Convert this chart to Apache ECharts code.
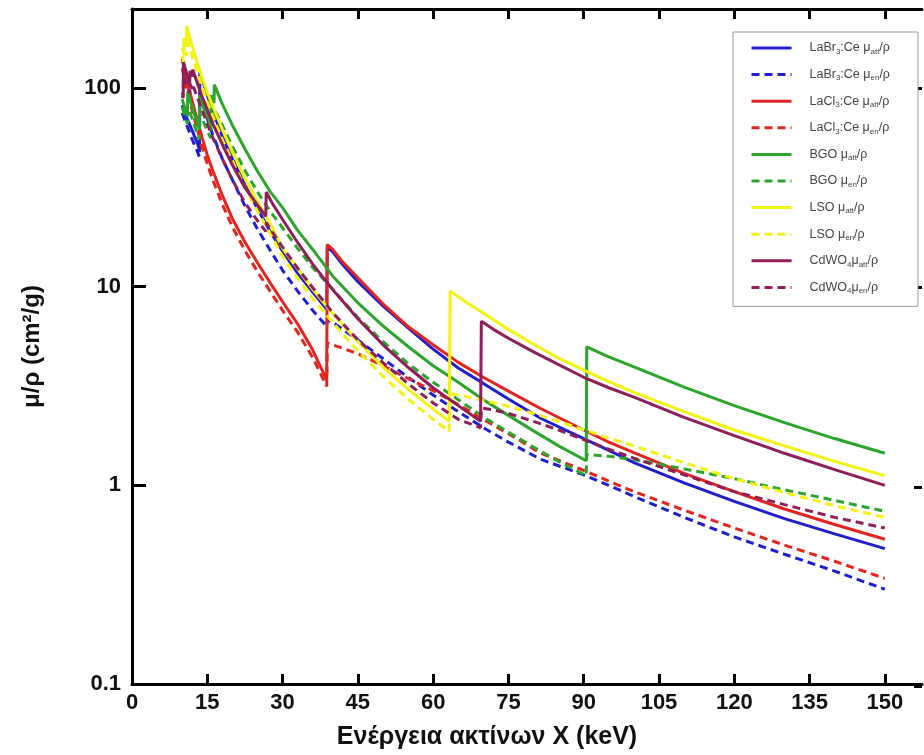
<!DOCTYPE html>
<html><head><meta charset="utf-8">
<script src="https://cdn.jsdelivr.net/npm/echarts@6/dist/echarts.min.js"></script>
<style>html,body{margin:0;padding:0;background:#fff}#c{width:924px;height:755px}</style>
</head><body><div id="c"></div>
<script>
// tick labels
const xTickLabels = [0, 15, 30, 45, 60, 75, 90, 105, 120, 135, 150];
const yTickLabels = [0.1, 1, 10, 100];

// legend / series names
const seriesNames = [
  'LaBr3:Ce μatt/ρ', 'LaBr3:Ce μen/ρ', 'LaCl3:Ce μatt/ρ', 'LaCl3:Ce μen/ρ',
  'BGO μatt/ρ', 'BGO μen/ρ', 'LSO μatt/ρ', 'LSO μen/ρ', 'CdWO4μatt/ρ', 'CdWO4μen/ρ'
];
const legendRich = [
  '{n|LaBr}{s|3}{n|:Ce μ}{s|att}{n|/ρ}',
  '{n|LaBr}{s|3}{n|:Ce μ}{s|en}{n|/ρ}',
  '{n|LaCl}{s|3}{n|:Ce μ}{s|att}{n|/ρ}',
  '{n|LaCl}{s|3}{n|:Ce μ}{s|en}{n|/ρ}',
  '{n|BGO μ}{s|att}{n|/ρ}',
  '{n|BGO μ}{s|en}{n|/ρ}',
  '{n|LSO μ}{s|att}{n|/ρ}',
  '{n|LSO μ}{s|en}{n|/ρ}',
  '{n|CdWO}{s|4}{n|μ}{s|att}{n|/ρ}',
  '{n|CdWO}{s|4}{n|μ}{s|en}{n|/ρ}'
];

// [energy keV, mu/rho cm2/g]
const laBr3Att = [[10,82],[11,70],[12,61],[13,53],[13.45,49],[13.5,120],[14,110],[15,92],[16,78],[18,57],[20,44],[22.5,32.5],[25,24.7],[27.5,19],[30,15.1],[33,11.7],[36,9.4],[38.8,7.7],[38.9,15.8],[40,15.0],[42,12.9],[45,10.6],[50,8.0],[55,6.2],[60,4.85],[65,3.9],[70,3.26],[75,2.72],[81.5,2.17],[90,1.72],[95,1.5],[100,1.3],[110,1.03],[120,0.83],[130,0.68],[140,0.57],[150,0.48]];
const laBr3En = [[10,75],[11,64],[12,55],[13,48],[13.45,45],[13.5,92],[14,84],[15,70],[16,59],[18,44],[20,34.5],[22.5,25.5],[25,19.5],[27.5,15.3],[30,12.1],[33,9.5],[36,7.6],[38.8,6.3],[38.9,6.8],[40,6.6],[42,6.1],[45,5.4],[50,4.35],[55,3.5],[60,2.85],[65,2.35],[70,1.95],[75,1.65],[81.5,1.35],[90,1.13],[95,1.0],[100,0.88],[110,0.69],[120,0.55],[130,0.45],[140,0.37],[150,0.30]];
const laCl3Att = [[10,140],[11,108],[12,86],[13,69],[14,56],[15,46],[16,39],[18,28.8],[20,22],[22.5,16.8],[25,13.2],[27.5,10.5],[30,8.4],[33,6.5],[36,4.8],[38.8,3.4],[38.9,16.3],[40,15.4],[42,13.3],[45,11.1],[50,8.2],[55,6.3],[60,5.1],[65,4.16],[70,3.5],[75,2.98],[81.5,2.43],[90,1.9],[95,1.65],[100,1.46],[110,1.15],[120,0.93],[130,0.76],[140,0.635],[150,0.535]];
const laCl3En = [[10,126],[11,97],[12,77],[13,62],[14,50],[15,41.5],[16,35],[18,26],[20,20],[22.5,15.2],[25,11.9],[27.5,9.5],[30,7.6],[33,5.9],[36,4.4],[38.8,3.15],[38.9,5.2],[40,5.1],[42,4.9],[45,4.6],[50,4.0],[55,3.45],[60,3.0],[65,2.55],[70,2.15],[75,1.82],[81.5,1.45],[90,1.19],[95,1.05],[100,0.93],[110,0.75],[120,0.61],[130,0.5],[140,0.415],[150,0.34]];
const bgoAtt = [[10,88],[11.05,72],[11.1,96],[12,80],[13.4,62],[13.45,92],[14,84],[15,72],[15.7,66],[15.75,92],[16.35,84],[16.4,104],[17,95.7],[18,83],[20,65],[22.5,49.3],[25,38.1],[27.5,30.2],[30,25],[33,19.2],[36,15.4],[40,11.3],[45,8.3],[50,6.35],[55,5.0],[60,4.0],[65,3.3],[70,2.7],[75,2.25],[80,1.88],[85,1.58],[90.5,1.33],[90.6,4.98],[95,4.43],[100,3.95],[110,3.12],[120,2.52],[130,2.07],[140,1.72],[150,1.45]];
const bgoEn = [[10,80],[11.05,66],[11.1,80],[12,70],[13.4,55],[13.45,75],[14,70],[15,61],[15.7,56],[15.75,72],[16.35,66],[16.4,78],[17,73],[18,65],[20,51],[22.5,38.5],[25,30],[27.5,24],[30,19.8],[33,15.6],[36,12.5],[40,9.7],[45,7.0],[50,5.3],[55,4.1],[60,3.3],[65,2.7],[70,2.21],[75,1.85],[80,1.56],[85,1.32],[90.5,1.12],[90.6,1.43],[95,1.4],[100,1.35],[110,1.21],[120,1.08],[130,0.95],[140,0.84],[150,0.74]];
const lsoAtt = [[10,160],[10.3,150],[10.35,178],[10.85,162],[10.9,205],[11.5,180],[12,163],[13,134],[14,112],[15,95],[16,82],[18,62],[20,48],[22.5,35.1],[25,26.8],[27.5,20.9],[30,15.6],[33,12.3],[36,9.7],[40,7.3],[45,5.3],[50,3.94],[55,3.05],[60,2.42],[63.2,2.1],[63.4,9.5],[66,8.55],[70,7.35],[75,6.1],[80,5.13],[85,4.37],[91,3.7],[95,3.33],[100,2.94],[110,2.35],[120,1.9],[130,1.58],[140,1.32],[150,1.12]];
const lsoEn = [[10,145],[10.3,135],[10.35,160],[10.85,145],[10.9,182],[11.5,160],[12,145],[13,120],[14,100],[15,85],[16,73],[18,55],[20,43],[22.5,31.5],[25,24],[27.5,18.6],[30,14.2],[33,11.0],[36,8.7],[40,6.6],[45,4.75],[50,3.55],[55,2.72],[60,2.15],[63.2,1.87],[63.4,2.9],[66,2.82],[70,2.68],[75,2.5],[80,2.3],[85,2.1],[91,1.87],[95,1.73],[100,1.58],[110,1.3],[120,1.08],[130,0.92],[140,0.79],[150,0.69]];
const cdwo4Att = [[10,95],[10.2,92],[10.25,135],[11.5,105],[11.55,122],[12.05,114],[12.1,124],[13,106],[14,90],[15,78],[16,67],[18,52],[20,41],[22.5,31.5],[25,25.8],[26.65,22.6],[26.75,30],[28,26.2],[30,21.8],[33,16.7],[36,13.0],[40,9.65],[45,6.9],[50,5.1],[55,3.93],[60,3.1],[65,2.52],[69.45,2.1],[69.6,6.7],[72,6.1],[75,5.5],[80,4.7],[85,4.05],[90,3.5],[95,3.1],[100,2.78],[110,2.2],[120,1.78],[130,1.45],[140,1.2],[150,1.0]];
const cdwo4En = [[10,92],[10.2,89],[10.25,115],[11.5,94],[11.55,105],[12.05,99],[12.1,104],[13,90],[14,77],[15,66],[16,57],[18,44],[20,34.5],[22.5,26.5],[25,21.5],[26.65,19],[26.75,21],[28,18.8],[30,15.8],[33,12.4],[36,9.9],[40,7.4],[45,5.4],[50,4.15],[55,3.25],[60,2.6],[65,2.15],[69.45,1.95],[69.6,2.45],[72,2.4],[75,2.3],[80,2.1],[85,1.9],[90,1.7],[95,1.52],[100,1.37],[110,1.13],[120,0.93],[130,0.8],[140,0.69],[150,0.61]];

const seriesData = [laBr3Att, laBr3En, laCl3Att, laCl3En, bgoAtt, bgoEn, lsoAtt, lsoEn, cdwo4Att, cdwo4En];
const seriesColors = ['#1f1fd0','#1f1fd0','#e3241f','#e3241f','#2ca52c','#2ca52c','#f2f213','#f2f213','#8e1f5a','#8e1f5a'];
const seriesDashed = [false,true,false,true,false,true,false,true,false,true];

const FONT = "'Liberation Sans Narrow','Liberation Sans',Arial,sans-serif";
const LFONT = "'Liberation Sans',Arial,sans-serif";
const chart = echarts.init(document.getElementById('c'), null, {renderer: 'canvas'});

const isDecade = v => yTickLabels.some(t => Math.abs(t - v) / t < 1e-6);
const GRID = {left: 132, top: 9, width: 790, height: 677, show: false};
const XMAX = 157.4;

const option = {
  animation: false,
  backgroundColor: '#fff',
  grid: [Object.assign({}, GRID), Object.assign({}, GRID)],
  legend: {
    orient: 'vertical', left: 733, top: 32, z: 1,
    data: seriesNames,
    itemWidth: 40, itemHeight: 12, itemGap: 12.6,
    padding: [9.5, 28, 11.5, 17],
    backgroundColor: '#fff', borderColor: '#9a9a9a', borderWidth: 1,
    itemStyle: {opacity: 0, borderWidth: 0},
    lineStyle: {width: 3},
    formatter: name => legendRich[seriesNames.indexOf(name)],
    textStyle: {
      padding: [0, 0, 0, 13],
      rich: {
        n: {fontSize: 12.5, color: '#444', fontFamily: LFONT, lineHeight: 15},
        s: {fontSize: 8, color: '#444', fontFamily: LFONT, verticalAlign: 'bottom', lineHeight: 15, padding: [4, 0, 0, 0]}
      }
    }
  },
  xAxis: [{
    gridIndex: 0, type: 'value', min: 0, max: XMAX, interval: 15, position: 'bottom',
    name: 'Ενέργεια ακτίνων X (keV)', nameLocation: 'middle', nameGap: 41,
    nameTextStyle: {fontSize: 25, fontWeight: 'bold', color: '#111', fontFamily: FONT, padding: [0, 80, 0, 0]},
    axisLine: {show: true, lineStyle: {color: '#000', width: 3}},
    axisTick: {show: true, inside: true, length: 10, customValues: xTickLabels, lineStyle: {color: '#000', width: 3}},
    axisLabel: {margin: 8, fontSize: 22, fontWeight: 'bold', color: '#111', fontFamily: FONT, customValues: xTickLabels,
      formatter: v => (xTickLabels.indexOf(v) >= 0 ? String(v) : '')},
    splitLine: {show: false}
  }, {
    gridIndex: 0, type: 'value', min: 0, max: XMAX, interval: 15, position: 'top',
    axisLine: {show: true, lineStyle: {color: '#000', width: 3}},
    axisTick: {show: true, inside: true, length: 10, customValues: xTickLabels, lineStyle: {color: '#000', width: 3}},
    axisLabel: {show: false}, splitLine: {show: false}
  }, {
    gridIndex: 1, type: 'value', min: 0, max: XMAX, show: false
  }],
  yAxis: [{
    gridIndex: 0, type: 'log', logBase: 10, min: 0.1, max: 250, position: 'left',
    name: 'μ/ρ (cm²/g)', nameLocation: 'middle', nameGap: 88, nameRotate: 90,
    nameTextStyle: {fontSize: 24, fontWeight: 'bold', color: '#111', fontFamily: LFONT},
    axisLine: {show: true, lineStyle: {color: '#000', width: 3}},
    axisTick: {show: true, inside: true, length: 14, customValues: yTickLabels, lineStyle: {color: '#000', width: 3}},
    minorTick: {show: false},
    axisLabel: {margin: 11, fontSize: 22, fontWeight: 'bold', color: '#111', fontFamily: FONT, customValues: yTickLabels,
      formatter: v => (isDecade(v) ? String(+v.toPrecision(3)) : '')},
    splitLine: {show: false}
  }, {
    gridIndex: 1, type: 'log', logBase: 10, min: 0.1, max: 250, position: 'left', offset: -790,
    axisLine: {show: false},
    axisTick: {show: true, inside: false, length: 8, customValues: yTickLabels, lineStyle: {color: '#000', width: 3}},
    axisLabel: {show: false}, splitLine: {show: false}
  }],
  series: seriesNames.map((name, i) => ({
    name: name, type: 'line', xAxisIndex: 0, yAxisIndex: 0,
    data: seriesData[i], symbol: 'none', showSymbol: false, smooth: false,
    clip: true,
    lineStyle: {color: seriesColors[i], width: 3, type: seriesDashed[i] ? [8, 5] : 'solid'},
    itemStyle: {color: seriesColors[i]}
  }))
};
chart.setOption(option);
</script>
</body></html>
